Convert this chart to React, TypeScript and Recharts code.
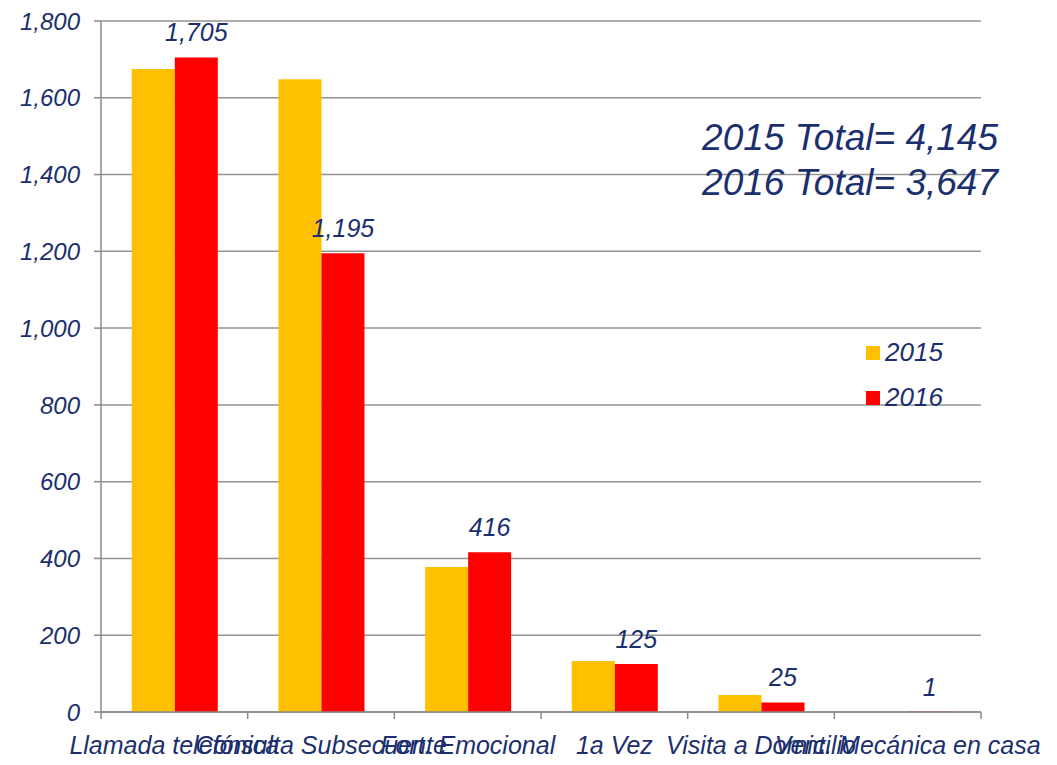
import React from 'react';
import { BarChart, Bar, XAxis, YAxis, CartesianGrid, Legend, LabelList } from 'recharts';

const categories = [
  'Llamada telefónica',
  'Consulta Subsecuente',
  'Fort. Emocional',
  '1a Vez',
  'Visita a Domicilio',
  'Vent. Mecánica en casa',
];
const values2015 = [1675, 1648, 378, 133, 44, 0];
const values2016 = [1705, 1195, 416, 125, 25, 1];
const yTicks = [0, 200, 400, 600, 800, 1000, 1200, 1400, 1600, 1800];
const seriesNames = ['2015', '2016'];
const totals = ['2015 Total= 4,145', '2016 Total= 3,647'];

const data = categories.map((c, i) => ({ name: c, v2015: values2015[i], v2016: values2016[i] }));

const NAVY = '#1B2F6E';
const FONT = '"Liberation Sans", Arial, sans-serif';
const W = 1057;
const H = 765;
const M = { top: 21, right: 76, bottom: 0, left: 0 };
const Y_W = 101;
const PLOT_W = W - M.left - M.right - Y_W;
const BAND = PLOT_W / categories.length;

const fmt = (v: number) => v.toLocaleString('en-US');

const XTick = (props: any) => {
  const { x, y, payload, index } = props;
  const isLast = index === categories.length - 1;
  return (
    <g>
      <line x1={x - BAND / 2} x2={x - BAND / 2} y1={y} y2={y + 7} stroke="#8a8a8a" strokeWidth={1.5} />
      {isLast && (
        <line x1={x + BAND / 2} x2={x + BAND / 2} y1={y} y2={y + 7} stroke="#8a8a8a" strokeWidth={1.5} />
      )}
      <text
        x={x}
        y={y + 24}
        dy="0.71em"
        textAnchor="middle"
        fill={NAVY}
        fontStyle="italic"
        fontSize={25}
        fontFamily={FONT}
      >
        {payload.value}
      </text>
    </g>
  );
};

const YTick = (props: any) => {
  const { x, y, payload } = props;
  return (
    <text
      x={x}
      y={y}
      dy="0.36em"
      textAnchor="end"
      fill={NAVY}
      fontStyle="italic"
      fontSize={24}
      fontFamily={FONT}
    >
      {fmt(payload.value)}
    </text>
  );
};

const LegendContent = (props: any) => {
  const { payload } = props;
  return (
    <div style={{ fontFamily: FONT }}>
      {(payload || []).map((p: any, i: number) => (
        <div key={i} style={{ display: 'flex', alignItems: 'center', height: 45 }}>
          <span style={{ width: 14, height: 14, background: p.color, display: 'inline-block', marginRight: 5 }} />
          <span style={{ color: NAVY, fontStyle: 'italic', fontSize: 26 }}>{p.value}</span>
        </div>
      ))}
    </div>
  );
};

export default function App() {
  return (
    <div style={{ position: 'absolute', left: 0, top: 0, width: W, height: H, background: '#fff' }}>
      <BarChart
        width={W}
        height={H}
        data={data}
        margin={M}
        barGap={0}
        barCategoryGap="21%"
      >
        <CartesianGrid vertical={false} stroke="#939393" strokeWidth={1.5} />
        <XAxis
          dataKey="name"
          height={53}
          tickLine={false}
          tickSize={0}
          tickMargin={0}
          interval={0}
          axisLine={{ stroke: '#8a8a8a', strokeWidth: 1.5 }}
          tick={<XTick />}
        />
        <YAxis
          width={Y_W}
          domain={[0, 1800]}
          ticks={yTicks}
          interval={0}
          tickSize={7}
          tickMargin={14}
          axisLine={{ stroke: '#8a8a8a', strokeWidth: 1.5 }}
          tickLine={{ stroke: '#8a8a8a', strokeWidth: 1.5 }}
          tick={<YTick />}
        />
        <Legend
          layout="vertical"
          align="center"
          verticalAlign="middle"
          content={<LegendContent />}
          wrapperStyle={{ position: 'absolute', left: 866, top: 330, width: 120 }}
        />
        <Bar dataKey="v2015" name={seriesNames[0]} fill="#FFC000" isAnimationActive={false} />
        <Bar dataKey="v2016" name={seriesNames[1]} fill="#FF0000" isAnimationActive={false}>
          <LabelList
            dataKey="v2016"
            position="top"
            offset={16}
            formatter={(v: any) => fmt(Number(v))}
            style={{ fill: NAVY, fontStyle: 'italic', fontSize: 25, fontFamily: FONT }}
          />
        </Bar>
      </BarChart>
      <div
        style={{
          position: 'absolute',
          right: 59,
          top: 115,
          textAlign: 'right',
          fontFamily: FONT,
          fontStyle: 'italic',
          fontSize: 37,
          lineHeight: '45px',
          color: NAVY,
          whiteSpace: 'pre',
        }}
      >
        {totals.map((t, i) => (
          <div key={i}>{t}</div>
        ))}
      </div>
    </div>
  );
}
